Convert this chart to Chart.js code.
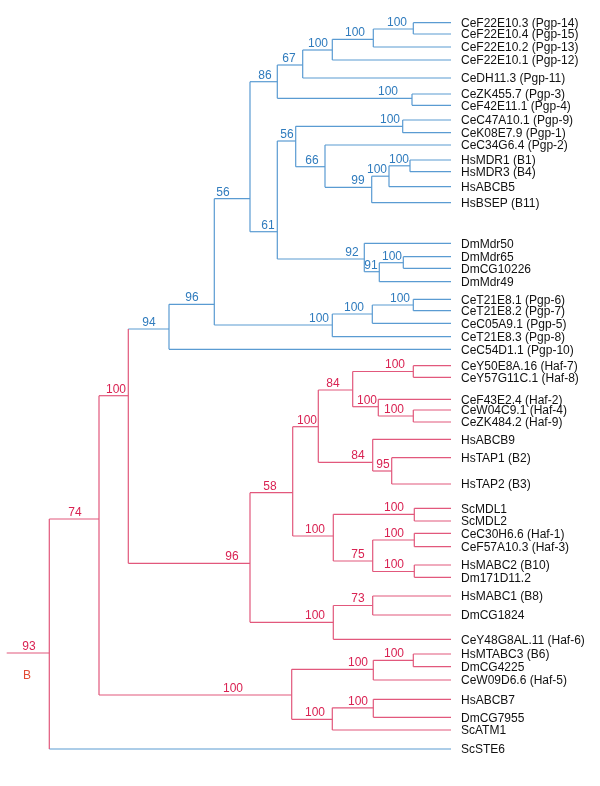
<!DOCTYPE html>
<html>
<head>
<meta charset="utf-8">
<script src="https://cdn.jsdelivr.net/npm/chart.js@4.4.1/dist/chart.umd.min.js"></script>
<style>
  html, body { margin: 0; padding: 0; background: #fff; }
  #wrap { width: 600px; height: 786px; position: relative; }
</style>
</head>
<body>
<div id="wrap"><canvas id="arbol"></canvas></div>
<script>
// hojas (de arriba a abajo)
const leafNames = [
  "CeF22E10.3 (Pgp-14)", "CeF22E10.4 (Pgp-15)", "CeF22E10.2 (Pgp-13)", "CeF22E10.1 (Pgp-12)",
  "CeDH11.3 (Pgp-11)", "CeZK455.7 (Pgp-3)", "CeF42E11.1 (Pgp-4)", "CeC47A10.1 (Pgp-9)",
  "CeK08E7.9 (Pgp-1)", "CeC34G6.4 (Pgp-2)", "HsMDR1 (B1)", "HsMDR3 (B4)", "HsABCB5",
  "HsBSEP (B11)", "DmMdr50", "DmMdr65", "DmCG10226", "DmMdr49", "CeT21E8.1 (Pgp-6)",
  "CeT21E8.2 (Pgp-7)", "CeC05A9.1 (Pgp-5)", "CeT21E8.3 (Pgp-8)", "CeC54D1.1 (Pgp-10)",
  "CeY50E8A.16 (Haf-7)", "CeY57G11C.1 (Haf-8)", "CeF43E2.4 (Haf-2)", "CeW04C9.1 (Haf-4)",
  "CeZK484.2 (Haf-9)", "HsABCB9", "HsTAP1 (B2)", "HsTAP2 (B3)", "ScMDL1", "ScMDL2",
  "CeC30H6.6 (Haf-1)", "CeF57A10.3 (Haf-3)", "HsMABC2 (B10)", "Dm171D11.2", "HsMABC1 (B8)",
  "DmCG1824", "CeY48G8AL.11 (Haf-6)", "HsMTABC3 (B6)", "DmCG4225", "CeW09D6.6 (Haf-5)",
  "HsABCB7", "DmCG7955", "ScATM1", "ScSTE6"
];
const leafRows = [
  22.7, 34, 47, 60, 78, 94, 105.3, 120, 132.7, 145, 160, 171.7, 186.7, 202.7,
  243.3, 256.7, 268.3, 281.7, 299.3, 310.7, 323.3, 336.7, 349.3,
  365.7, 377.3, 399.3, 410, 422, 439.3, 457.7, 484, 508.3, 521, 533.3, 546.7,
  565, 577.3, 596, 615, 639.3, 654, 666.7, 680, 699.3, 717.3, 730, 749
];
const leafParents = [
  "a", "a", "b", "c", "d", "e", "e", "g", "g", "k", "h", "h", "i", "j",
  "p", "r", "r", "q", "s", "s", "t", "u", "w",
  "A", "A", "C", "B", "B", "F", "E", "E", "I", "I", "J", "J", "K2", "K2",
  "M", "M", "M2", "O", "O", "P", "Q", "Q", "S", "root"
];
const leafClade = leafParents.map((p, i) => (i < 23 || p === "root") ? "b" : "r");
const tipDepth = 451;

// nodos internos
const nodeIds      = ["a", "b", "c", "d", "e", "f", "g", "h", "i", "j", "k", "m", "n", "o", "p", "q", "r", "s", "t", "u", "v", "w", "x", "y", "root",
                      "A", "B", "C", "D", "E", "F", "G", "H", "I", "J", "K2", "K", "L", "M", "M2", "N", "O", "P", "Q", "S", "R"];
const nodeDepth    = [413.3, 373.3, 332.3, 302.7, 412, 277.3, 402.7, 410, 389, 371.7, 325, 295.7, 250, 277.3, 364.3, 379.3, 403.3, 413.3, 372.3, 332.3, 214.3, 169, 128.3, 99, 49.3,
                      413.3, 413.3, 378.3, 352.7, 391.7, 372.7, 318.3, 292.7, 414.3, 414.3, 414.3, 372.7, 333.3, 372.7, 333.3, 250, 413.3, 373.3, 373.3, 332.3, 291.7];
const nodeRows     = [29, 39.3, 50, 65, 98.3, 81.7, 126.3, 165.8, 176.2, 187.3, 166.7, 141, 198.7, 231.7, 259, 271.7, 262.7, 305, 314, 325, 304.3, 329, 395.7, 519, 653,
                      371.5, 416, 406.7, 390, 471, 462.3, 426.7, 492.7, 514.3, 540, 571.5, 561, 536, 605.5, 622.3, 563.3, 660.3, 669.3, 707.8, 719.3, 695];
const nodeParents  = ["b", "c", "d", "f", "f", "n", "m", "i", "j", "k", "m", "o", "v", "n", "o", "p", "q", "t", "u", "v", "w", "x", "y", "root", null,
                      "D", "C", "D", "G", "F", "G", "H", "N", "L", "K", "K", "L", "H", "M2", "N", "x", "P", "R", "S", "R", "y"];
const nodeSupport  = [100, 100, 100, 67, 100, 86, 100, 100, 100, 99, 66, 56, 56, 61, 92, 91, 100, 100, 100, 100, 96, 94, 100, 74, 93,
                      100, 100, 100, 84, 95, 84, 100, 58, 100, 100, 100, 75, 100, 73, 100, 96, 100, 100, 100, 100, 100];
const nodeClade    = ["b", "b", "b", "b", "b", "b", "b", "b", "b", "b", "b", "b", "b", "b", "b", "b", "b", "b", "b", "b", "b", "b", "r", "r", "r",
                      "r", "r", "r", "r", "r", "r", "r", "r", "r", "r", "r", "r", "r", "r", "r", "r", "r", "r", "r", "r", "r"];
const supportLabelX = [397, 355, 318, 289, 388, 265, 390, 399, 377, 358, 312, 287, 223, 268, 352, 371, 392, 400, 354, 319, 192, 149, 116, 75, 29,
                      395, 394, 367, 333, 383, 358, 307, 270, 394, 394, 394, 358, 315, 358, 315, 232, 394, 358, 358, 315, 233];
const rootStem = 6.7;

const lineColor = { b: "#5a9bd2", r: "#e2587c" };
const textColor = { b: "#2f7bbd", r: "#d92252" };

const nodeIdx = {};
nodeIds.forEach((id, i) => nodeIdx[id] = i);

// segmentos
const segmentos = [];
function seg(x1, y1, x2, y2, clade) {
  segmentos.push({
    data: [{ x: x1, y: y1 }, { x: x2, y: y2 }],
    borderColor: lineColor[clade],
    borderWidth: 1.2,
    showLine: true,
    pointRadius: 0,
    fill: false
  });
}

// verticales de cada nodo
nodeIds.forEach((id, i) => {
  const hijos = [];
  leafParents.forEach((p, j) => { if (p === id) hijos.push(leafRows[j]); });
  nodeParents.forEach((p, j) => { if (p === id) hijos.push(nodeRows[j]); });
  seg(nodeDepth[i], Math.min(...hijos), nodeDepth[i], Math.max(...hijos), nodeClade[i]);
});
// horizontales de nodos internos
nodeIds.forEach((id, i) => {
  const p = nodeParents[i];
  const x0 = p ? nodeDepth[nodeIdx[p]] : rootStem;
  seg(x0, nodeRows[i], nodeDepth[i], nodeRows[i], nodeClade[i]);
});
// horizontales de hojas
leafNames.forEach((n, i) => {
  seg(nodeDepth[nodeIdx[leafParents[i]]], leafRows[i], tipDepth, leafRows[i], leafClade[i]);
});

const etiquetas = {
  id: "etiquetas",
  afterDatasetsDraw(chart) {
    const ctx = chart.ctx;
    const sx = chart.scales.x, sy = chart.scales.y;
    ctx.save();
    ctx.font = '12px "Liberation Sans", Arial, sans-serif';
    ctx.textBaseline = "middle";
    ctx.textAlign = "left";
    ctx.fillStyle = "#111";
    leafNames.forEach((n, i) => {
      ctx.fillText(n, sx.getPixelForValue(tipDepth) + 10, sy.getPixelForValue(leafRows[i]) + 1);
    });
    ctx.textAlign = "center";
    nodeIds.forEach((id, i) => {
      ctx.fillStyle = textColor[nodeClade[i]];
      ctx.fillText(String(nodeSupport[i]), sx.getPixelForValue(supportLabelX[i]), sy.getPixelForValue(nodeRows[i]) - 6.5);
    });
    ctx.fillStyle = "#e24a33";
    ctx.fillText("B", sx.getPixelForValue(27), sy.getPixelForValue(676));
    ctx.restore();
  }
};

new Chart(document.getElementById("arbol"), {
  type: "scatter",
  data: { datasets: segmentos },
  options: {
    responsive: true,
    maintainAspectRatio: false,
    animation: false,
    layout: { padding: 0 },
    plugins: { legend: { display: false }, tooltip: { enabled: false } },
    scales: {
      x: { type: "linear", min: 0, max: 600, display: false },
      y: { type: "linear", min: 0, max: 786, reverse: true, display: false }
    }
  },
  plugins: [etiquetas]
});
</script>
</body>
</html>
